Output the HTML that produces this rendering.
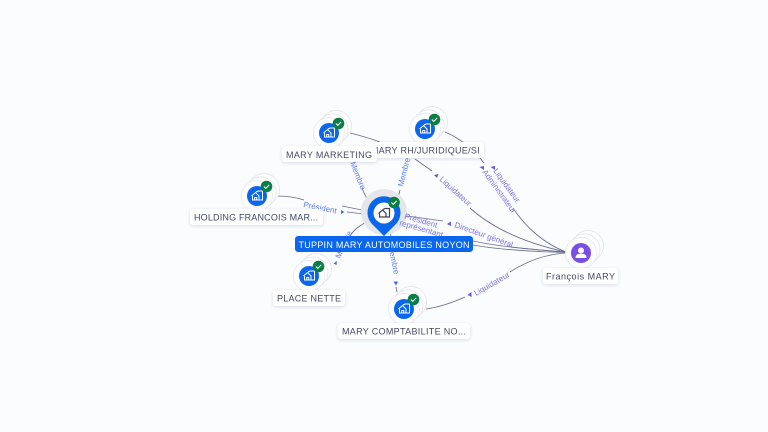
<!DOCTYPE html>
<html>
<head>
<meta charset="utf-8">
<style>
html,body{margin:0;padding:0;background:#fafcfe;width:768px;height:432px;overflow:hidden}
svg{display:block;filter:blur(.35px)}
text{font-family:"Liberation Sans",sans-serif}
.e{fill:none;stroke:#676d8c;stroke-width:.85}
.l{font-size:8px;fill:#7b74e6}
.b{font-size:8px;fill:#5e7cf0}
.n{font-size:9px;fill:#434868}
</style>
</head>
<body>
<svg width="768" height="432" viewBox="0 0 768 432" xmlns="http://www.w3.org/2000/svg">
<defs>
<filter id="s" x="-30%" y="-50%" width="160%" height="200%"><feDropShadow dx="0" dy="1" stdDeviation="1.6" flood-color="#33406a" flood-opacity=".16"/></filter>
<g id="stack">
<circle cx="7" cy="-7" r="15.500" fill="#fff" stroke="#e6e7ec" stroke-width=".9"/>
<circle cx="3.500" cy="-3.500" r="15.500" fill="#fff" stroke="#e6e7ec" stroke-width=".9"/>
<circle cx="0" cy="0" r="15.500" fill="#fff" stroke="#e8e9ee" stroke-width=".9"/>
</g>
<g id="co">
<use href="#stack"/>
<circle r="10" fill="#0b66ee"/>
<g fill="none" stroke="#fff" stroke-width="1">
<path d="M-5.500 0 L-1.500 -3.500 L2 0 V4 H-4.500 V0"/>
<path d="M-1 -4 L1 -5 H5.500 V4 H2"/>
<path d="M-2.300 4 V1.500 H-.3 V4"/>
</g>
<g transform="translate(9.500,-9.500)">
<circle r="5.800" fill="#0b7d47"/>
<path d="M-2.600 0 L-.7 1.900 L2.700 -1.600" fill="none" stroke="#fff" stroke-width="1"/>
</g>
</g>
</defs>

<!-- edges -->
<g class="e">
<path d="M350 133 C362 136 372 139 380 142"/>
<path d="M345 148 C349 158 350 160 351 162"/>
<path d="M362 188 C364 194 367 199 371 204"/>
<path d="M277 196 C290 196 298 198 304 200"/>
<path d="M342 206 C352 208 362 210 372 212"/>
<path d="M347 212 C355 213 364 214 372 215"/>
<path d="M400 190 L398 198"/>
<path d="M445 132 C460 138 474 150 484 163"/>
<path d="M415 159 L432 171"/>
<path d="M470 208 C490 226 520 242 566 252"/>
<path d="M513 208 C526 228 545 244 566 252"/>
<path d="M400 215 L443 221"/>
<path d="M473 241 C500 247 540 250 566 252"/>
<path d="M473 245 C500 250 540 252 566 252.500"/>
<path d="M510 247 L566 252.500"/>
<path d="M426 309 C440 307 454 302 465 297"/>
<path d="M510 272 C530 259 550 254 566 253"/>
<path d="M369 221 C358 226 354 230 350 236"/>
<path d="M390 226 L391 238"/>
<path d="M396 287 L397 292"/>
</g>

<!-- arrowheads -->
<g fill="#4a68ee">
<path d="M341 210 L344.500 212 L341 214Z"/>
<path d="M393.500 281.500 L398 281.500 L396 285.500Z"/>
<path d="M333.500 263.500 L337 261 L336.500 265Z"/>
</g>
<g fill="#6d55e6">
<path d="M447 224 L451 221.500 L451 226Z"/>
<path d="M434 175 L438.500 174 L437 178Z"/>
<path d="M479.500 167 L484 166 L484 170Z"/>
<path d="M490.500 167 L495 166 L495 170Z"/>
<path d="M467.500 295 L471.500 292 L471.500 297Z"/>
</g>

<!-- edge labels -->
<text class="b" transform="translate(303,207) rotate(11)">Président</text>
<text class="b" transform="translate(350,163) rotate(68)">Membre</text>
<text class="b" transform="translate(403,187) rotate(-76)">Membre</text>
<text class="l" transform="translate(439,180) rotate(42)">Liquidateur</text>
<text class="l" transform="translate(482,172) rotate(54)">Administrateur</text>
<text class="l" transform="translate(493,171) rotate(54)">Liquidateur</text>
<text class="l" transform="translate(454,227) rotate(19.500)">Directeur général</text>
<text class="l" transform="translate(476,296) rotate(-30)">Liquidateur</text>
<text class="b" transform="translate(340,259) rotate(-65)">Membre</text>
<text class="b" transform="translate(388,246) rotate(78)">Membre</text>

<!-- François -->
<g transform="translate(581,253)">
<use href="#stack"/>
<circle r="10" fill="#7a4fe8"/>
<circle cy="-2.500" r="3" fill="#fff"/>
<path d="M-5.500 5 C-5.500 1 -2.500 .8 0 .8 C2.500 .8 5.500 1 5.500 5Z" fill="#fff"/>
</g>
<rect x="543" y="268" width="75" height="16" rx="3" fill="#fff" filter="url(#s)"/>
<text class="n" x="546" y="279.500" textLength="69" lengthAdjust="spacing">François MARY</text>

<!-- company nodes -->
<use href="#co" x="425" y="129"/>
<rect x="365" y="142" width="119" height="16" rx="3" fill="#fff" filter="url(#s)"/>
<text class="n" x="480" y="153.500" text-anchor="end" letter-spacing=".3">MARY RH/JURIDIQUE/SI</text>

<use href="#co" x="329" y="133"/>
<rect x="282" y="146" width="95" height="16" rx="3" fill="#fff" filter="url(#s)"/>
<text class="n" x="286" y="158" textLength="86" lengthAdjust="spacing">MARY MARKETING</text>

<use href="#co" x="257" y="196"/>
<rect x="190" y="209" width="133" height="16" rx="3" fill="#fff" filter="url(#s)"/>
<text class="n" x="194" y="220.500" textLength="124" lengthAdjust="spacing">HOLDING FRANCOIS MAR...</text>

<use href="#co" x="309" y="276"/>
<rect x="273" y="290" width="72" height="16" rx="3" fill="#fff" filter="url(#s)"/>
<text class="n" x="277" y="301.500" textLength="64" lengthAdjust="spacing">PLACE NETTE</text>

<use href="#co" x="404" y="309"/>
<rect x="338" y="323" width="132" height="16" rx="3" fill="#fff" filter="url(#s)"/>
<text class="n" x="342" y="334.500" textLength="124" lengthAdjust="spacing">MARY COMPTABILITE NO...</text>

<!-- central pin -->
<circle cx="384" cy="212" r="23" fill="#e4e6ea"/>
<path d="M384 236 L373 225 A16.500 16.500 0 1 1 395 225Z" fill="#0b66ee"/>
<circle cx="384" cy="213" r="10.500" fill="#fff"/>
<g fill="none" stroke="#3d4258" stroke-width="1.200">
<path d="M378.500 213.500 L382.500 210 L386 213.500 V217 H379.500 V213.500"/>
<path d="M383 209.500 L385 208.500 H389.500 V217 H386"/>
</g>
<g transform="translate(394,202.500)">
<circle r="5.800" fill="#0b7d47"/>
<path d="M-2.600 0 L-.7 1.900 L2.700 -1.600" fill="none" stroke="#fff" stroke-width="1"/>
</g>
<text class="l" transform="translate(404,218.500) rotate(16)">Président</text>
<text class="l" transform="translate(399,225) rotate(16)">représentant</text>
<rect x="295" y="236" width="178" height="16" rx="3" fill="#0b66ee"/>
<text x="298.500" y="248" font-size="9" fill="#fff" textLength="171" lengthAdjust="spacing">TUPPIN MARY AUTOMOBILES NOYON</text>
</svg>
</body>
</html>
